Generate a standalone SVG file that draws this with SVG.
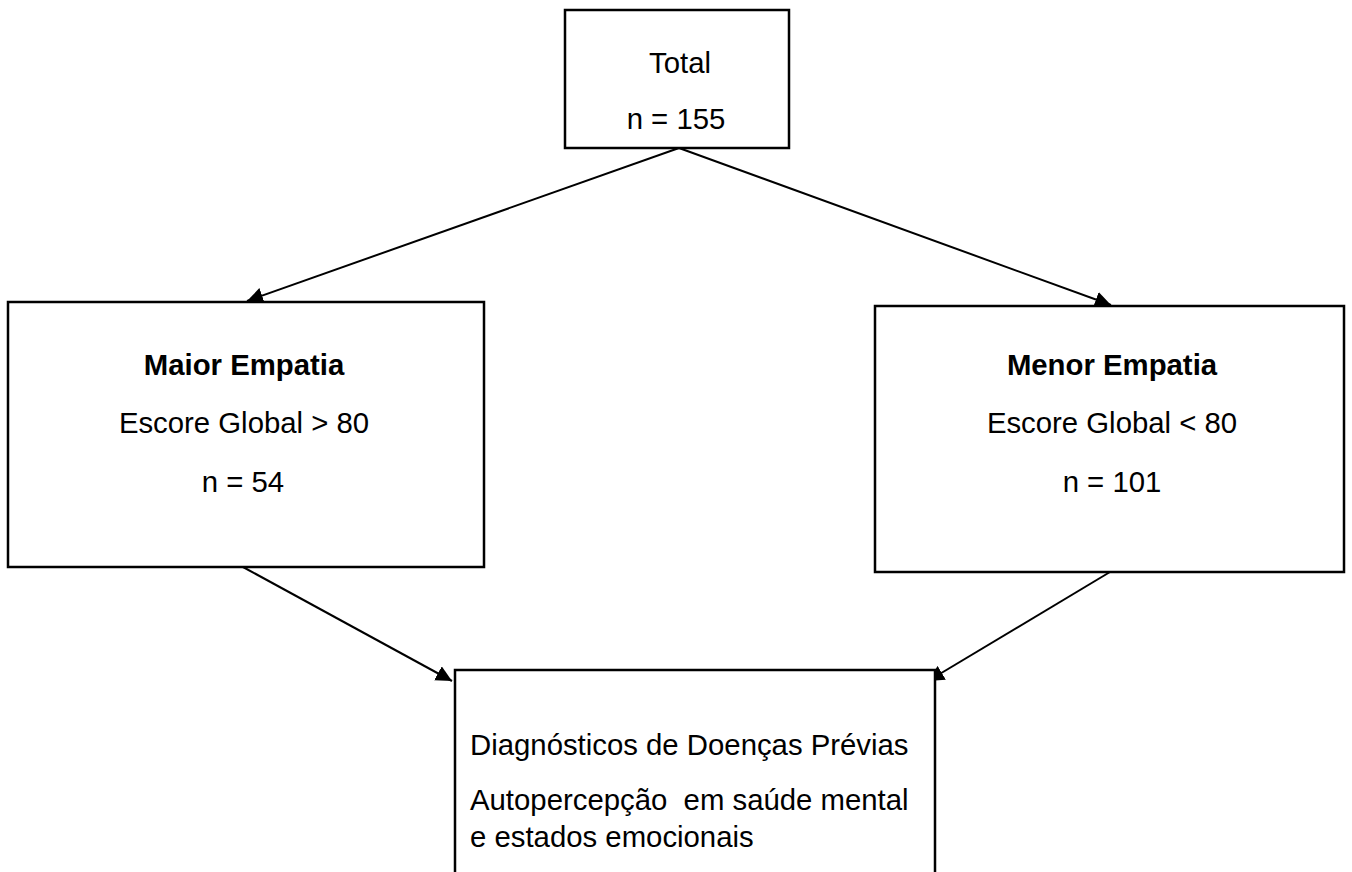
<svg xmlns="http://www.w3.org/2000/svg" width="1352" height="872" viewBox="0 0 1352 872">
<style>
.box{fill:#fff;stroke:#000;stroke-width:2.5}
.t{font-family:"Liberation Sans",Arial,sans-serif;font-size:29.33px;fill:#000}
.c{text-anchor:middle}
.b{font-weight:bold}
.ln{stroke:#000;stroke-width:2;fill:none;marker-end:url(#ah)}
</style>
<defs>
<marker id="ah" viewBox="0 0 10 10" refX="10" refY="5" markerWidth="8" markerHeight="8" orient="auto" markerUnits="strokeWidth">
<path d="M0,0 L10,5 L0,10 z" fill="#000"/>
</marker>
</defs>
<rect width="1352" height="872" fill="#fff"/>
<g id="connectors">
<line class="ln" x1="679" y1="148" x2="247" y2="301"/>
<line class="ln" x1="679" y1="148" x2="1111" y2="305"/>
<line class="ln" x1="243" y1="567" x2="452" y2="681"/>
<line class="ln" x1="1110" y1="572" x2="928" y2="681"/>
</g>
<g id="total">
<rect class="box" x="565" y="10" width="224" height="138"/>
<text class="t c" x="680" y="73">Total</text>
<text class="t c" x="676" y="129">n = 155</text>
</g>
<g id="maior">
<rect class="box" x="8" y="302" width="476" height="265"/>
<text class="t c b" x="244" y="375">Maior Empatia</text>
<text class="t c" x="244" y="433">Escore Global &gt; 80</text>
<text class="t c" x="243" y="492">n = 54</text>
</g>
<g id="menor">
<rect class="box" x="875" y="306" width="469" height="266"/>
<text class="t c b" x="1112" y="375">Menor Empatia</text>
<text class="t c" x="1112" y="433">Escore Global &lt; 80</text>
<text class="t c" x="1112" y="492">n = 101</text>
</g>
<g id="resultado">
<rect class="box" x="455" y="670" width="480" height="220"/>
<text class="t" x="470" y="755">Diagnósticos de Doenças Prévias</text>
<text class="t" x="470" y="810" xml:space="preserve">Autopercepção  em saúde mental</text>
<text class="t" x="470" y="847">e estados emocionais</text>
</g>
</svg>
